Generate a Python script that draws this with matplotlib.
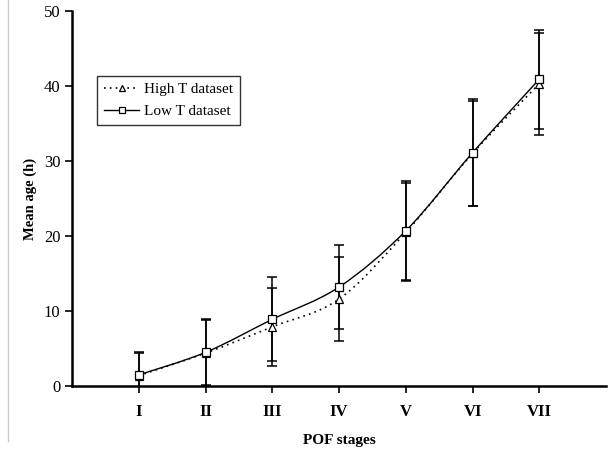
import numpy as np
import matplotlib.pyplot as plt
from matplotlib.path import Path
from matplotlib.patches import PathPatch
from matplotlib.lines import Line2D

plt.rcParams['font.family'] = ['Liberation Serif', 'DejaVu Serif']

# Data
stages = ['I', 'II', 'III', 'IV', 'V', 'VI', 'VII']
high_mean = [1.4, 4.4, 7.9, 11.6, 20.5, 31.0, 40.3]
high_err = [3.0, 4.4, 5.2, 5.6, 6.5, 7.0, 6.8]
low_mean = [1.5, 4.5, 8.9, 13.2, 20.7, 31.1, 40.9]
low_err = [3.0, 4.4, 5.6, 5.6, 6.6, 7.1, 6.6]


def smooth_path(x, y):
    # Catmull-Rom style bezier through the points (like Excel smoothed lines)
    x = np.asarray(x, float)
    y = np.asarray(y, float)
    verts = [(x[0], y[0])]
    codes = [Path.MOVETO]
    n = len(x)
    for i in range(n - 1):
        x0, y0 = (x[i - 1], y[i - 1]) if i > 0 else (x[i], y[i])
        x3, y3 = (x[i + 2], y[i + 2]) if i + 2 < n else (x[i + 1], y[i + 1])
        c1 = (x[i] + (x[i + 1] - x0) / 6, y[i] + (y[i + 1] - y0) / 6)
        c2 = (x[i + 1] - (x3 - x[i]) / 6, y[i + 1] - (y3 - y[i]) / 6)
        verts += [c1, c2, (x[i + 1], y[i + 1])]
        codes += [Path.CURVE4] * 3
    return Path(verts, codes)


xpos = np.arange(1, len(stages) + 1)

fig = plt.figure(figsize=(6.11, 4.5), dpi=100)
ax = fig.add_axes([0.118, 0.142, 0.874, 0.834])

# error bars
ax.errorbar(xpos, high_mean, yerr=high_err, fmt='none', ecolor='black',
            elinewidth=1.1, capsize=3.5, capthick=1.1)
ax.errorbar(xpos, low_mean, yerr=low_err, fmt='none', ecolor='black',
            elinewidth=1.1, capsize=3.5, capthick=1.1)

# smoothed lines
ax.add_patch(PathPatch(smooth_path(xpos, high_mean), fill=False, ec='black',
                       lw=1.2, ls=(0, (1, 2.5))))
ax.add_patch(PathPatch(smooth_path(xpos, low_mean), fill=False, ec='black', lw=1.0))

# markers
ax.plot(xpos, high_mean, ls='none', marker='^', ms=5.5, mfc='white', mec='black',
        mew=0.9, zorder=4)
ax.plot(xpos, low_mean, ls='none', marker='s', ms=5.5, mfc='white', mec='black',
        mew=0.9, zorder=5)

handles = [
    Line2D([], [], color='black', ls=(0, (1, 2.5)), lw=1.2, marker='^', ms=5,
           mfc='white', mec='black', mew=0.9),
    Line2D([], [], color='black', ls='-', lw=1.0, marker='s', ms=5,
           mfc='white', mec='black', mew=0.9),
]
leg = ax.legend(handles, ['High T dataset', 'Low T dataset'], loc='upper left',
                bbox_to_anchor=(0.047, 0.827), borderaxespad=0, fontsize=11,
                frameon=True, fancybox=False, edgecolor='black',
                handlelength=2.3, borderpad=0.45, labelspacing=0.55,
                handletextpad=0.3)
leg.get_frame().set_linewidth(1.0)

ax.set_xlim(0, 8)
ax.set_ylim(0, 50)
ax.set_xticks(xpos)
ax.set_xticklabels(stages, fontweight='bold', fontsize=12)
ax.set_yticks(np.arange(0, 51, 10))
ax.tick_params(axis='y', labelsize=12, direction='out', length=5, width=1.2)
ax.tick_params(axis='x', direction='out', length=5, width=1.2, pad=8)

for s in ['top', 'right']:
    ax.spines[s].set_visible(False)
for s in ['left', 'bottom']:
    ax.spines[s].set_linewidth(1.8)

ax.set_ylabel('Mean age (h)', fontweight='bold', fontsize=10.5, labelpad=5)
ax.set_xlabel('POF stages', fontweight='bold', fontsize=11, labelpad=10)

# thin grey border line at the left edge of the image
fig.add_artist(Line2D([0.013, 0.013], [0.02, 1.0], color='#cccccc', lw=1.0,
                      transform=fig.transFigure))

plt.savefig('out.png', dpi=100)
